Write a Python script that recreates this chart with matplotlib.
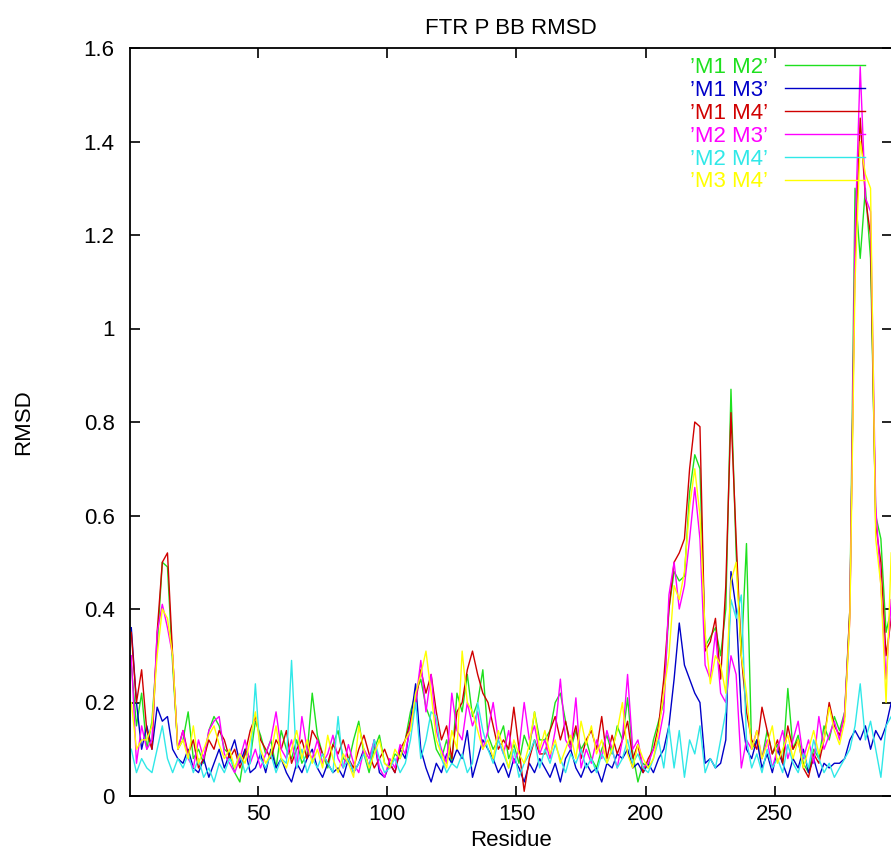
import numpy as np
import matplotlib
matplotlib.use('Agg')
import matplotlib.pyplot as plt

plt.rcParams['font.family'] = ['Liberation Sans', 'DejaVu Sans']

# residues sampled every 2nd position (1, 3, 5, ... 295)
residue = np.arange(1, 297, 2)

m1_m2 = [0.28, 0.15, 0.22, 0.10, 0.16, 0.32, 0.50, 0.49, 0.28, 0.10,
         0.12, 0.18, 0.08, 0.10, 0.07, 0.14, 0.17, 0.15, 0.10, 0.09,
         0.05, 0.03, 0.10, 0.08, 0.16, 0.13, 0.09, 0.12, 0.06, 0.14,
         0.10, 0.08, 0.12, 0.07, 0.09, 0.22, 0.13, 0.09, 0.06, 0.11,
         0.14, 0.08, 0.07, 0.12, 0.16, 0.09, 0.05, 0.10, 0.13, 0.07,
         0.06, 0.09, 0.08, 0.12, 0.18, 0.22, 0.25, 0.19, 0.16, 0.10,
         0.08, 0.12, 0.07, 0.22, 0.18, 0.26, 0.17, 0.20, 0.27, 0.13,
         0.10, 0.12, 0.15, 0.08, 0.11, 0.07, 0.13, 0.10, 0.18, 0.12,
         0.12, 0.14, 0.20, 0.22, 0.16, 0.10, 0.14, 0.10, 0.12, 0.08,
         0.06, 0.10, 0.13, 0.09, 0.15, 0.12, 0.21, 0.09, 0.03, 0.07,
         0.06, 0.12, 0.16, 0.20, 0.40, 0.48, 0.46, 0.47, 0.65, 0.73,
         0.70, 0.32, 0.34, 0.36, 0.30, 0.40, 0.87, 0.52, 0.30, 0.54,
         0.10, 0.12, 0.08, 0.14, 0.09, 0.11, 0.07, 0.23, 0.10, 0.13,
         0.07, 0.05, 0.10, 0.08, 0.15, 0.12, 0.17, 0.14, 0.18, 0.40,
         1.30, 1.15, 1.30, 1.15, 0.60, 0.55, 0.35, 0.40]

m1_m3 = [0.36, 0.20, 0.10, 0.15, 0.10, 0.19, 0.16, 0.17, 0.10, 0.08,
         0.07, 0.10, 0.06, 0.05, 0.08, 0.04, 0.07, 0.10, 0.06, 0.09,
         0.12, 0.07, 0.10, 0.05, 0.06, 0.09, 0.05, 0.10, 0.06, 0.08,
         0.05, 0.03, 0.07, 0.05, 0.08, 0.10, 0.06, 0.04, 0.07, 0.05,
         0.06, 0.04, 0.08, 0.05, 0.07, 0.10, 0.06, 0.12, 0.05, 0.04,
         0.07, 0.05, 0.10, 0.08, 0.16, 0.24, 0.10, 0.06, 0.03, 0.07,
         0.05, 0.09, 0.07, 0.10, 0.08, 0.14, 0.04, 0.08, 0.12, 0.10,
         0.08, 0.05, 0.07, 0.04, 0.08, 0.06, 0.03, 0.07, 0.05, 0.08,
         0.06, 0.04, 0.07, 0.03, 0.08, 0.10, 0.06, 0.04, 0.07, 0.05,
         0.06, 0.03, 0.07, 0.06, 0.09, 0.08, 0.10, 0.06, 0.07, 0.05,
         0.07, 0.05, 0.08, 0.10, 0.15, 0.25, 0.37, 0.28, 0.25, 0.22,
         0.20, 0.07, 0.08, 0.06, 0.07, 0.12, 0.48, 0.40, 0.18, 0.10,
         0.08, 0.12, 0.06, 0.09, 0.05, 0.10, 0.07, 0.04, 0.08, 0.06,
         0.10, 0.05, 0.08, 0.04, 0.07, 0.06, 0.07, 0.07, 0.08, 0.12,
         0.14, 0.12, 0.15, 0.10, 0.14, 0.12, 0.15, 0.20]

m1_m4 = [0.35, 0.20, 0.27, 0.14, 0.10, 0.35, 0.50, 0.52, 0.30, 0.10,
         0.14, 0.09, 0.12, 0.06, 0.08, 0.12, 0.10, 0.14, 0.12, 0.08,
         0.10, 0.06, 0.09, 0.14, 0.17, 0.12, 0.10, 0.08, 0.12, 0.10,
         0.14, 0.07, 0.10, 0.12, 0.08, 0.14, 0.12, 0.09, 0.07, 0.11,
         0.09, 0.12, 0.08, 0.06, 0.10, 0.13, 0.09, 0.06, 0.08, 0.10,
         0.07, 0.05, 0.10, 0.12, 0.16, 0.20, 0.27, 0.22, 0.26, 0.18,
         0.12, 0.15, 0.08, 0.18, 0.20, 0.27, 0.31, 0.26, 0.22, 0.20,
         0.15, 0.10, 0.12, 0.10, 0.19, 0.10, 0.01, 0.08, 0.12, 0.09,
         0.09, 0.14, 0.17, 0.12, 0.16, 0.11, 0.15, 0.08, 0.12, 0.14,
         0.10, 0.17, 0.08, 0.13, 0.09, 0.12, 0.16, 0.08, 0.11, 0.05,
         0.08, 0.10, 0.15, 0.25, 0.40, 0.50, 0.52, 0.55, 0.70, 0.80,
         0.79, 0.31, 0.33, 0.38, 0.25, 0.45, 0.82, 0.55, 0.30, 0.18,
         0.12, 0.10, 0.19, 0.14, 0.09, 0.12, 0.07, 0.15, 0.10, 0.12,
         0.06, 0.04, 0.09, 0.07, 0.12, 0.20, 0.15, 0.13, 0.17, 0.40,
         1.15, 1.45, 1.28, 1.20, 0.58, 0.50, 0.30, 0.38]

m2_m3 = [0.30, 0.07, 0.15, 0.10, 0.12, 0.35, 0.41, 0.36, 0.30, 0.10,
         0.14, 0.08, 0.06, 0.12, 0.08, 0.14, 0.16, 0.17, 0.09, 0.07,
         0.05, 0.08, 0.12, 0.07, 0.10, 0.06, 0.09, 0.12, 0.18, 0.10,
         0.08, 0.12, 0.06, 0.17, 0.10, 0.08, 0.12, 0.07, 0.09, 0.13,
         0.08, 0.06, 0.11, 0.07, 0.05, 0.10, 0.08, 0.12, 0.06, 0.04,
         0.08, 0.06, 0.11, 0.09, 0.15, 0.20, 0.29, 0.18, 0.26, 0.14,
         0.10, 0.07, 0.22, 0.14, 0.12, 0.20, 0.15, 0.18, 0.10, 0.14,
         0.20, 0.12, 0.09, 0.14, 0.07, 0.10, 0.20, 0.12, 0.15, 0.09,
         0.12, 0.08, 0.14, 0.25, 0.12, 0.10, 0.21, 0.06, 0.10, 0.07,
         0.12, 0.08, 0.14, 0.10, 0.06, 0.12, 0.26, 0.10, 0.12, 0.06,
         0.07, 0.10, 0.12, 0.18, 0.43, 0.50, 0.40, 0.45, 0.55, 0.66,
         0.55, 0.28, 0.25, 0.35, 0.22, 0.20, 0.30, 0.26, 0.06, 0.12,
         0.10, 0.14, 0.08, 0.12, 0.06, 0.10, 0.14, 0.08, 0.12, 0.16,
         0.08, 0.12, 0.07, 0.17, 0.10, 0.13, 0.16, 0.12, 0.18, 0.38,
         1.20, 1.56, 1.28, 1.25, 0.62, 0.45, 0.25, 0.42]

m2_m4 = [0.10, 0.05, 0.08, 0.06, 0.05, 0.10, 0.15, 0.08, 0.05, 0.08,
         0.06, 0.09, 0.05, 0.08, 0.04, 0.06, 0.03, 0.07, 0.05, 0.08,
         0.06, 0.09, 0.05, 0.07, 0.24, 0.08, 0.06, 0.09, 0.05, 0.08,
         0.07, 0.29, 0.06, 0.10, 0.05, 0.08, 0.06, 0.09, 0.07, 0.05,
         0.17, 0.06, 0.08, 0.05, 0.07, 0.09, 0.06, 0.12, 0.08, 0.05,
         0.06, 0.08, 0.05, 0.07, 0.12, 0.20, 0.08, 0.12, 0.18, 0.17,
         0.08, 0.05, 0.07, 0.06, 0.09, 0.05, 0.07, 0.20, 0.14, 0.10,
         0.07, 0.12, 0.09, 0.06, 0.10, 0.04, 0.07, 0.09, 0.12, 0.06,
         0.10, 0.07, 0.11, 0.08, 0.05, 0.09, 0.07, 0.10, 0.06, 0.08,
         0.05, 0.09, 0.07, 0.10, 0.06, 0.08, 0.12, 0.07, 0.09, 0.06,
         0.05, 0.08, 0.12, 0.06, 0.15, 0.06, 0.14, 0.04, 0.12, 0.09,
         0.15, 0.05, 0.08, 0.06, 0.12, 0.18, 0.42, 0.38, 0.43, 0.12,
         0.06, 0.09, 0.05, 0.10, 0.06, 0.08, 0.05, 0.11, 0.07, 0.05,
         0.09, 0.06, 0.12, 0.08, 0.05, 0.07, 0.04, 0.06, 0.08, 0.10,
         0.15, 0.24, 0.12, 0.16, 0.10, 0.04, 0.15, 0.17]

m3_m4 = [0.20, 0.10, 0.12, 0.12, 0.15, 0.30, 0.40, 0.38, 0.30, 0.10,
         0.12, 0.08, 0.15, 0.07, 0.10, 0.13, 0.15, 0.11, 0.08, 0.10,
         0.06, 0.09, 0.07, 0.12, 0.18, 0.10, 0.07, 0.09, 0.15, 0.08,
         0.06, 0.10, 0.14, 0.08, 0.12, 0.07, 0.10, 0.06, 0.13, 0.08,
         0.05, 0.09, 0.07, 0.04, 0.15, 0.10, 0.06, 0.09, 0.12, 0.07,
         0.06, 0.10, 0.08, 0.12, 0.14, 0.22, 0.26, 0.31, 0.22, 0.12,
         0.09, 0.06, 0.14, 0.10, 0.31, 0.20, 0.18, 0.14, 0.10, 0.12,
         0.08, 0.14, 0.10, 0.06, 0.12, 0.09, 0.07, 0.11, 0.18, 0.10,
         0.14, 0.09, 0.12, 0.07, 0.10, 0.13, 0.08, 0.16, 0.11, 0.15,
         0.09, 0.12, 0.07, 0.10, 0.14, 0.20, 0.09, 0.06, 0.11, 0.08,
         0.06, 0.08, 0.14, 0.22, 0.30, 0.45, 0.42, 0.48, 0.62, 0.70,
         0.60, 0.35, 0.24, 0.30, 0.28, 0.22, 0.46, 0.50, 0.30, 0.22,
         0.10, 0.14, 0.08, 0.11, 0.15, 0.07, 0.10, 0.13, 0.08, 0.12,
         0.06, 0.10, 0.14, 0.09, 0.12, 0.19, 0.14, 0.11, 0.16, 0.38,
         1.10, 1.40, 1.33, 1.30, 0.55, 0.45, 0.20, 0.52]

labels = ["\u2019M1 M2\u2019", "\u2019M1 M3\u2019", "\u2019M1 M4\u2019",
          "\u2019M2 M3\u2019", "\u2019M2 M4\u2019", "\u2019M3 M4\u2019"]
colors = ['#1ee01e', '#0000c8', '#d00000', '#ff00ff', '#30e8e8', '#ffff00']
series = [m1_m2, m1_m3, m1_m4, m2_m3, m2_m4, m3_m4]

fs = 16

fig = plt.figure(figsize=(8.91, 8.5), dpi=100)
# gnuplot-like frame, right border falls just off the canvas
ax = fig.add_axes([130/891, 54/850, 762/891, 748/850])

for vals, lab, col in zip(series, labels, colors):
    ax.plot(residue, vals, color=col, lw=1.0, label=lab)

ax.set_xlim(0.5, 295.3)
ax.set_ylim(0, 1.6)
ax.set_xticks([50, 100, 150, 200, 250])
ax.set_yticks([0, 0.2, 0.4, 0.6, 0.8, 1.0, 1.2, 1.4, 1.6])
ax.set_yticklabels(['0', '0.2', '0.4', '0.6', '0.8', '1', '1.2', '1.4', '1.6'])
ax.tick_params(direction='in', length=7, width=1.2, labelsize=fs,
               top=True, right=True, color='black')
ax.tick_params(axis='y', pad=11)
ax.tick_params(axis='x', pad=6)
for s in ax.spines.values():
    s.set_linewidth(1.3)

ax.set_title('FTR P BB RMSD', fontsize=fs, pad=10)
ax.set_xlabel('Residue', fontsize=fs, labelpad=3)
ax.set_ylabel('RMSD', fontsize=fs, labelpad=36)

leg = ax.legend(loc='upper right', bbox_to_anchor=(1 - 27/762, 1 - 9/748),
                frameon=False, markerfirst=False, fontsize=fs,
                handlelength=3.6, handletextpad=0.75, labelspacing=0.085,
                borderpad=0, borderaxespad=0, labelcolor='linecolor')

fig.savefig('out.png', dpi=100)
